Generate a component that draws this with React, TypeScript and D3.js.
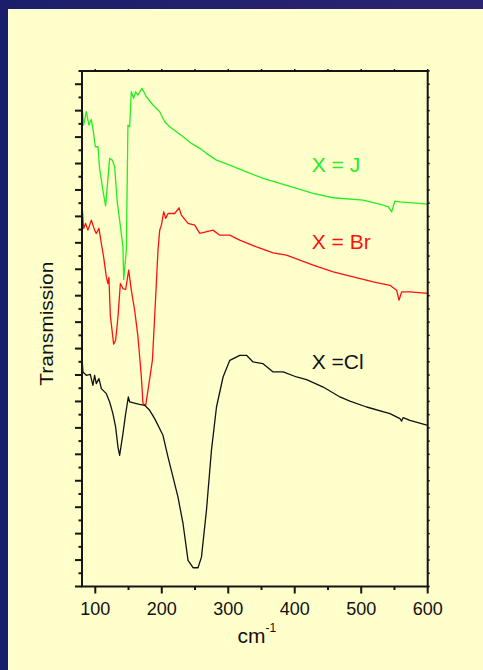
import React from "react";
import * as d3 from "d3";

const xMajorTicks = [100, 200, 300, 400, 500, 600];
const xMinorTicks = [150, 250, 350, 450, 550];
const yMajorTicks = d3.range(0, 39, 2);
const yMinorTicks = d3.range(1, 40, 2);

const greenX = [80, 82.4, 86.5, 90.4, 94, 96.4, 100, 104, 106.5, 110.6, 115.5, 121.6, 125.6, 129.1, 133.2, 136.6, 141.6, 142.7, 146.7, 149.1, 151.7, 154.2, 157.7, 160.7, 164.2, 170.2, 176.8, 186.8, 196.9, 204.4, 211.9, 222, 232, 244.6, 257.1, 267.2, 282.3, 302.3, 327.4, 352.4, 377.6, 402.7, 427.7, 457.9, 503, 533.2, 540.7, 545.8, 550.8, 558.3, 600];
const greenY = [36.43, 34.91, 35.92, 34.91, 35.34, 34.66, 33.27, 33.27, 31.63, 30.24, 28.8, 32.39, 32.26, 31.75, 28.98, 27.72, 25.69, 23.23, 25.44, 34.91, 34.78, 37.43, 36.93, 37.43, 37.18, 37.69, 37.05, 36.43, 35.92, 35.16, 34.78, 34.4, 34.02, 33.52, 33.15, 32.77, 32.26, 31.88, 31.37, 30.87, 30.5, 30.12, 29.74, 29.41, 29.23, 28.85, 28.72, 28.35, 29.16, 29.1, 28.93];

const redX = [80, 82.4, 85.4, 88.9, 94, 99, 101.5, 105.5, 109.1, 112.5, 116.6, 119, 120.5, 122.6, 127.6, 130.6, 134.1, 137.7, 141.6, 145.7, 150.2, 154.2, 159.2, 164.2, 169.3, 171.7, 175.8, 179.2, 185.9, 189.3, 194.3, 196.9, 199.4, 202.9, 205.9, 209.4, 219.5, 225.9, 229.5, 239.5, 249.6, 257.1, 277.1, 287.2, 302.3, 317.3, 342.5, 367.5, 387.6, 407.7, 427.7, 457.9, 488, 518.1, 543.2, 553.3, 556.8, 560.8, 573.3, 600];
const redY = [28.93, 27.09, 27.47, 26.96, 27.72, 26.96, 26.71, 27.09, 25.95, 24.94, 23.42, 22.92, 23.38, 20.52, 18.33, 18.63, 20.39, 22.92, 22.54, 22.47, 23.93, 22.42, 20.9, 18.88, 15.85, 13.84, 13.71, 14.84, 17.11, 20.39, 25.44, 26.96, 27.34, 28.35, 27.85, 28.22, 28.22, 28.65, 28.1, 27.47, 27.34, 26.71, 26.96, 26.58, 26.58, 26.2, 25.69, 25.24, 25.07, 24.69, 24.31, 23.8, 23.42, 23.04, 22.79, 22.42, 21.66, 22.29, 22.29, 22.17];

const blackX = [80, 81.4, 86.5, 92.5, 96.4, 99, 101.5, 105.5, 109.1, 116.6, 121.6, 126.5, 130.6, 134.1, 136.6, 141.6, 145.7, 149.7, 151.7, 161.8, 166.7, 174.3, 181.8, 189.3, 201.8, 209.4, 216.9, 224.4, 232, 239.5, 247, 254.5, 259.7, 267.2, 274.7, 282.3, 292.2, 302.3, 317.3, 327.4, 337.3, 352.4, 367.5, 382.6, 402.7, 417.8, 442.8, 468, 483, 508.1, 543.2, 558.3, 560.8, 563.2, 573.3, 600];
const blackY = [17.36, 16.23, 15.98, 16.05, 15.22, 15.98, 15.35, 15.73, 14.97, 14.59, 13.96, 13.08, 12.06, 10.55, 9.92, 11.56, 13.08, 14.34, 13.96, 13.84, 13.78, 13.71, 13.33, 12.7, 11.44, 9.79, 8.28, 6.76, 4.75, 1.97, 1.42, 1.42, 2.22, 5.76, 10.3, 13.58, 15.85, 17.11, 17.49, 17.49, 16.99, 16.86, 16.23, 16.23, 15.85, 15.65, 15.09, 14.34, 14.03, 13.58, 13.08, 12.7, 12.52, 12.78, 12.57, 12.19];

const seriesNames = ["X = J", "X = Br", "X =Cl"];
const seriesColors = ["#22ee22", "#ff1010", "#111111"];
const labelValues = [31.34, 25.53, 16.45];

const W = 483;
const H = 670;
const left = 82;
const right = 427.7;
const top = 71;
const bottom = 586.5;

export default function App() {
  const x = d3.scaleLinear().domain([80, 600]).range([left, right]);
  const y = d3.scaleLinear().domain([0, 39]).range([bottom, top]);
  const line = d3
    .line<[number, number]>()
    .x((d) => x(d[0]))
    .y((d) => y(d[1]));
  const series = [
    greenX.map((v, i) => [v, greenY[i]] as [number, number]),
    redX.map((v, i) => [v, redY[i]] as [number, number]),
    blackX.map((v, i) => [v, blackY[i]] as [number, number]),
  ];
  const axisColor = "#151515";
  const font = "'Liberation Sans', Arial, sans-serif";
  const topTicks = [...xMajorTicks, ...xMinorTicks];
  return (
    <svg
      width={W}
      height={H}
      style={{ position: "absolute", left: 0, top: 0 }}
      fontFamily={font}
    >
      <defs>
        <linearGradient id="bg" x1="0" x2="1" y1="0" y2="0">
          <stop offset="0" stopColor="#1b1f6b" />
          <stop offset="1" stopColor="#2b2473" />
        </linearGradient>
      </defs>
      <rect x={0} y={0} width={W} height={H} fill="#ffffcc" />
      <rect x={0} y={0} width={W} height={9} fill="url(#bg)" />
      <rect x={0} y={0} width={8} height={H} fill="#1b1f6b" />

      <g>
        {series.map((s, i) => (
          <path
            key={i}
            d={line(s) || ""}
            fill="none"
            stroke={seriesColors[i]}
            strokeWidth={1.3}
            strokeLinejoin="round"
          />
        ))}
      </g>

      <rect
        x={left}
        y={top}
        width={right - left}
        height={bottom - top}
        fill="none"
        stroke={axisColor}
        strokeWidth={2}
      />
      {yMajorTicks.map((t) => (
        <line key={"ym" + t} x1={left - 7} x2={left} y1={y(t)} y2={y(t)} stroke={axisColor} strokeWidth={2} />
      ))}
      {yMinorTicks.map((t) => (
        <line key={"yn" + t} x1={left - 3.5} x2={left} y1={y(t)} y2={y(t)} stroke={axisColor} strokeWidth={2} />
      ))}
      {[...yMajorTicks, ...yMinorTicks].map((t) => (
        <line key={"yr" + t} x1={right} x2={right + 2} y1={y(t)} y2={y(t)} stroke={axisColor} strokeWidth={1.5} />
      ))}
      {xMajorTicks.map((t) => (
        <line key={"xm" + t} x1={x(t)} x2={x(t)} y1={bottom} y2={bottom + 7} stroke={axisColor} strokeWidth={2} />
      ))}
      {xMinorTicks.map((t) => (
        <line key={"xn" + t} x1={x(t)} x2={x(t)} y1={bottom} y2={bottom + 3.5} stroke={axisColor} strokeWidth={2} />
      ))}
      {topTicks.map((t) => (
        <line key={"xt" + t} x1={x(t)} x2={x(t)} y1={top - 2} y2={top} stroke={axisColor} strokeWidth={1.5} />
      ))}
      {xMajorTicks.map((t) => (
        <text key={"xl" + t} x={x(t)} y={615} textAnchor="middle" fontSize={18} fill="#111">
          {t}
        </text>
      ))}
      <text x={237.5} y={642.5} fontSize={21} fill="#111">
        cm
        <tspan fontSize={12} dy={-11}>-1</tspan>
      </text>
      <text
        transform={`translate(53,${323.7}) rotate(-90)`}
        textAnchor="middle"
        fontSize={19}
        fill="#111"
        textLength={124}
        lengthAdjust="spacingAndGlyphs"
      >
        Transmission
      </text>
      {seriesNames.map((n, i) => (
        <text key={n} x={311.7} y={y(labelValues[i])} fontSize={21} fill={seriesColors[i]}>
          {n}
        </text>
      ))}
    </svg>
  );
}
